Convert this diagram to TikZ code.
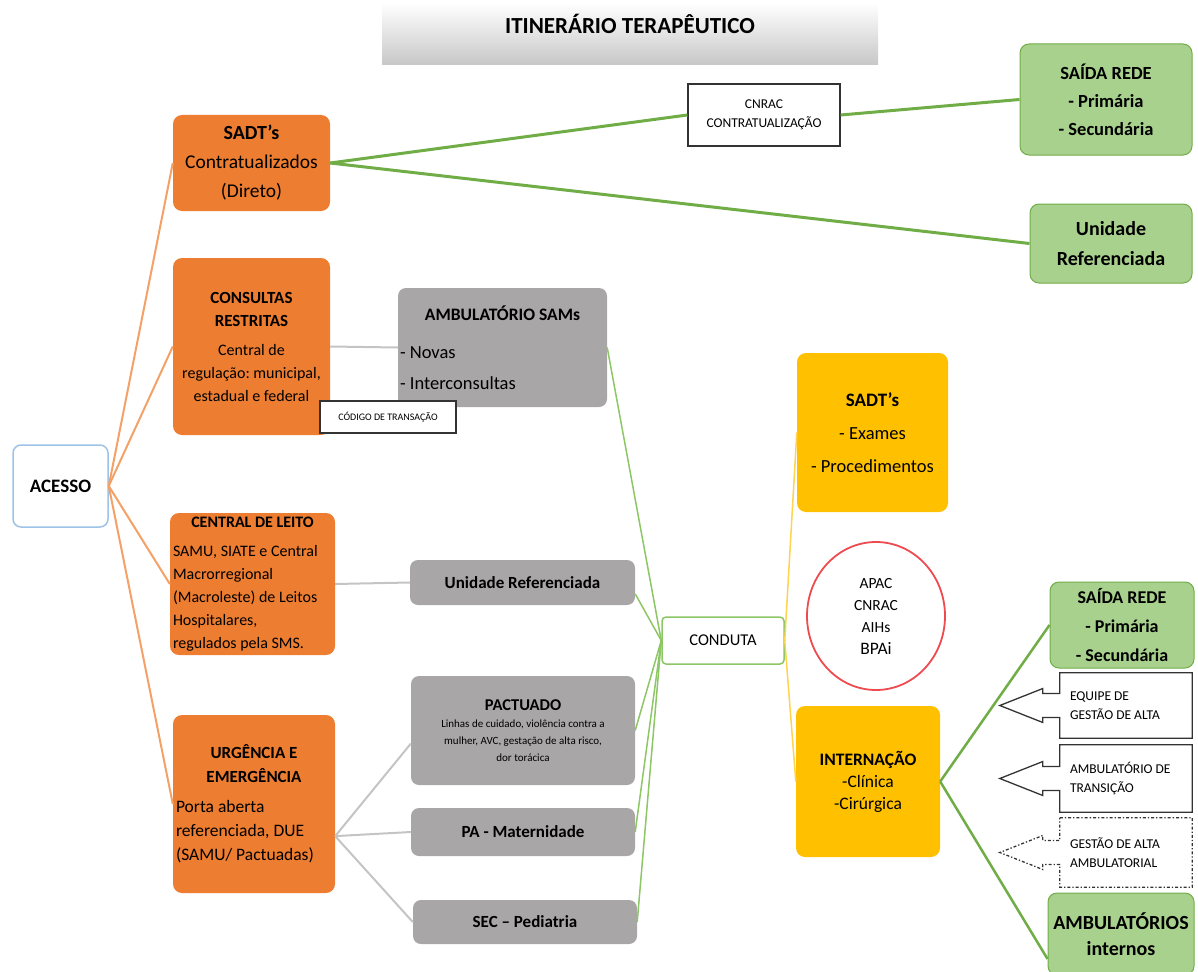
\documentclass[tikz,border=0pt]{standalone}
\usepackage{fontspec}
\setmainfont{Carlito}
\usetikzlibrary{calc,shapes.geometric}
\definecolor{corange}{HTML}{ED7D31}
\definecolor{clorange}{HTML}{F4A168}
\definecolor{cgray}{HTML}{A8A6A6}
\definecolor{clgray}{HTML}{C4C4C4}
\definecolor{cyellow}{HTML}{FFC000}
\definecolor{clyellow}{HTML}{FFD34D}
\definecolor{cgreen}{HTML}{A9D18E}
\definecolor{cdgreen}{HTML}{70AD47}
\definecolor{clgreen}{HTML}{8CC665}
\definecolor{cblue}{HTML}{9DC3E6}
\definecolor{cred}{HTML}{EE4B50}
\newcommand{\fs}[2]{\fontsize{#1}{#2}\selectfont}
\frenchspacing

\begin{document}
\begin{tikzpicture}[x=1pt, y=-1pt,
  box/.style={rounded corners=9pt, inner sep=3pt, align=center, text=black},
  orangebox/.style={box, fill=corange},
  graybox/.style={box, fill=cgray, rounded corners=8pt},
  yellowbox/.style={box, fill=cyellow},
  greenbox/.style={box, fill=cgreen, draw=cdgreen, line width=1pt},
  notebox/.style={draw=black!80, line width=1.3pt, fill=white, align=center},
  outbox/.style={align=flush left, text width=112, inner xsep=10, minimum width=132, font=\fs{13.5}{19}},
  outline/.style={draw=black!80, line width=1.3pt},
  linkorange/.style={draw=clorange, line width=2},
  linkgray/.style={draw=clgray, line width=2},
  linkgreen/.style={draw=cdgreen, line width=3},
  linklightgreen/.style={draw=clgreen, line width=1.5},
  linkyellow/.style={draw=clyellow, line width=1.5},
]
  \useasboundingbox (0,0) rectangle (1198,971);
  \clip (0,0) rectangle (1198,971);

  % titulo
  \node[minimum width=496, minimum height=62, top color=white, bottom color=black!22,
    font=\fs{23}{26}\bfseries, text depth=20pt] (titulo) at (630,34) {ITINERÁRIO TERAPÊUTICO};

  % acesso e portas de entrada
  \node[draw=cblue, line width=1.5, rounded corners=8pt, fill=white, minimum width=95,
    minimum height=82, font=\fs{19}{22}\bfseries] (acesso) at (60.5,486) {ACESSO};
  \node[orangebox, minimum width=157, minimum height=96, font=\fs{19.5}{29}] (sadt)
    at (251.5,163) {{\fs{20}{29}\bfseries SADT’s}\\Contratualizados\\(Direto)};
  \node[orangebox, minimum width=157, minimum height=177, font=\fs{16}{23}] (consultas)
    at (251.5,346.5) {{\fs{17}{21}\bfseries CONSULTAS}\\{\fs{17}{21}\bfseries RESTRITAS}\\[6pt]Central de\\regulação: municipal,\\estadual e federal};
  \node[orangebox, minimum width=165, minimum height=142, text width=159, inner xsep=3,
    inner ysep=2, align=flush left, font=\fs{16}{23}] (leito) at (252.5,584)
    {\makebox[\linewidth]{\bfseries CENTRAL DE LEITO}\\[6pt]SAMU, SIATE e Central\\Macrorregional\\(Macroleste) de Leitos\\Hospitalares,\\regulados pela SMS.};
  \node[orangebox, minimum width=162, minimum height=178, text width=156, inner xsep=3,
    align=flush left, font=\fs{17.5}{24}] (urgencia) at (254,804)
    {\makebox[\linewidth]{\fs{17}{23}\bfseries URGÊNCIA E}\\\makebox[\linewidth]{\fs{17}{23}\bfseries EMERGÊNCIA}\\[6pt]Porta aberta\\referenciada, DUE\\(SAMU/ Pactuadas)};

  % fluxos regulados
  \node[graybox, minimum width=209, minimum height=119, text width=205, inner xsep=2,
    align=flush left, font=\fs{18.5}{19}] (ambsam) at (502.5,347.5)
    {\makebox[\linewidth]{\fs{17.5}{19}\bfseries AMBULATÓRIO SAMs}\\[19pt]- Novas\\[12pt]- Interconsultas};
  \node[graybox, minimum width=225, minimum height=45, font=\fs{17}{20}\bfseries] (unidref)
    at (522.5,582.5) {Unidade Referenciada};
  \node[graybox, minimum width=224, minimum height=109, font=\fs{11}{17}] (pactuado)
    at (523,730.5) {{\fs{16.5}{20}\bfseries PACTUADO}\\Linhas de cuidado, violência contra a\\mulher, AVC, gestação de alta risco,\\dor torácica};
  \node[graybox, minimum width=224, minimum height=48, font=\fs{17}{20}\bfseries] (pamat)
    at (523,832) {PA - Maternidade};
  \node[graybox, minimum width=224, minimum height=44, font=\fs{17}{20}\bfseries] (secped)
    at (525,922) {SEC – Pediatria};

  \node[draw=clgreen, line width=1.5, rounded corners=4pt, fill=white, minimum width=122,
    minimum height=47, font=\fs{16.5}{20}] (conduta) at (723,640.5) {CONDUTA};

  % saidas
  \node[notebox, minimum width=152, minimum height=62, font=\fs{13.5}{19}] (cnrac)
    at (764,115) {CNRAC\\CONTRATUALIZAÇÃO};
  \node[greenbox, minimum width=172, minimum height=111, font=\fs{18.5}{28}\bfseries] (saida)
    at (1106,99.5) {SAÍDA REDE\\- Primária\\- Secundária};
  \node[greenbox, minimum width=162, minimum height=79, font=\fs{20}{30}\bfseries] (unidgreen)
    at (1111,243.5) {Unidade\\Referenciada};

  \node[yellowbox, minimum width=151, minimum height=159, font=\fs{18.5}{33}] (sadtexam)
    at (872.5,432.5) {{\fs{19}{33}\bfseries SADT’s}\\- Exames\\- Procedimentos};
  \node[ellipse, draw=cred, line width=1.8, fill=white, minimum width=138, minimum height=148,
    align=center, font=\fs{15.5}{22}] (apac) at (876,616) {APAC\\CNRAC\\AIHs\\{\fs{17.5}{22}BPAi}};
  \node[yellowbox, minimum width=144, minimum height=151, font=\fs{17.5}{22}] (internacao)
    at (868,781.5) {{\fs{17.5}{22}\bfseries INTERNAÇÃO}\\-Clínica\\-Cirúrgica};

  \node[greenbox, minimum width=144, minimum height=86, font=\fs{18}{29}\bfseries] (saida2)
    at (1122,625) {SAÍDA REDE\\- Primária\\- Secundária};
  \node[greenbox, minimum width=146, minimum height=82, font=\fs{20}{26}\bfseries] (ambint)
    at (1121,934) {AMBULATÓRIOS\\internos};

  % altas
  \node[outbox, minimum height=65] (equipe) at (1126,705.5) {EQUIPE DE\\GESTÃO DE ALTA};
  \draw[outline] (equipe.north west) -- (equipe.north east) -- (equipe.south east)
    -- (equipe.south west) -- ($(equipe.west)+(0,12)$) -- ++(-17,0) -- ++(0,5)
    -- ($(equipe.west)+(-60,0)$) -- ($(equipe.west)+(-17,-17)$) -- ++(0,5)
    -- ($(equipe.west)+(0,-12)$) -- cycle;
  \node[outbox, minimum height=67] (transicao) at (1126,778.5) {AMBULATÓRIO DE\\TRANSIÇÃO};
  \draw[outline] (transicao.north west) -- (transicao.north east) -- (transicao.south east)
    -- (transicao.south west) -- ($(transicao.west)+(0,12)$) -- ++(-17,0) -- ++(0,5)
    -- ($(transicao.west)+(-60,0)$) -- ($(transicao.west)+(-17,-17)$) -- ++(0,5)
    -- ($(transicao.west)+(0,-12)$) -- cycle;
  \node[outbox, minimum height=69] (altaamb) at (1126,852.5) {GESTÃO DE ALTA\\AMBULATORIAL};
  \draw[outline, dash dot] (altaamb.north west) -- (altaamb.north east) -- (altaamb.south east)
    -- (altaamb.south west) -- ($(altaamb.west)+(0,12)$) -- ++(-17,0) -- ++(0,5)
    -- ($(altaamb.west)+(-60,0)$) -- ($(altaamb.west)+(-17,-17)$) -- ++(0,5)
    -- ($(altaamb.west)+(0,-12)$) -- cycle;

  % ligacoes
  \draw[linkorange] (acesso.east) -- (sadt.west);
  \draw[linkorange] (acesso.east) -- (consultas.west);
  \draw[linkorange] (acesso.east) -- (leito.west);
  \draw[linkorange] (acesso.east) -- (urgencia.west);

  \draw[linkgray] (consultas.east) -- (ambsam.west);
  \draw[linkgray] (leito.east) -- (unidref.west);
  \coordinate (urgout) at ($(urgencia.north east)!0.68!(urgencia.south east)$);
  \draw[linkgray] (urgout) -- ($(pactuado.north west)!0.62!(pactuado.south west)$);
  \draw[linkgray] (urgout) -- (pamat.west);
  \draw[linkgray] (urgout) -- (secped.west);

  \draw[linklightgreen] (ambsam.east) -- (conduta.west);
  \draw[linklightgreen] ($(unidref.north east)!0.75!(unidref.south east)$) -- (conduta.west);
  \draw[linklightgreen] (pactuado.east) -- (conduta.west);
  \draw[linklightgreen] (pamat.east) -- (conduta.west);
  \draw[linklightgreen] (secped.east) -- (conduta.west);

  \draw[linkyellow] (conduta.east) -- (sadtexam.west);
  \draw[linkyellow] (conduta.east) -- (internacao.west);

  \draw[linkgreen] (sadt.east) -- (cnrac.west);
  \draw[linkgreen] (cnrac.east) -- (saida.west);
  \draw[linkgreen] (sadt.east) -- (unidgreen.west);

  \draw[linkgreen, line width=2.5] (internacao.east) -- (saida2.west);
  \draw[linkgreen, line width=2.5] (internacao.east)
    -- ($(ambint.west)!0.6!(ambint.south west)$);

  \node[notebox, minimum width=136, minimum height=32, font=\fs{10}{12}] (codigo)
    at (388,417) {CÓDIGO DE TRANSAÇÃO};
\end{tikzpicture}
\end{document}
